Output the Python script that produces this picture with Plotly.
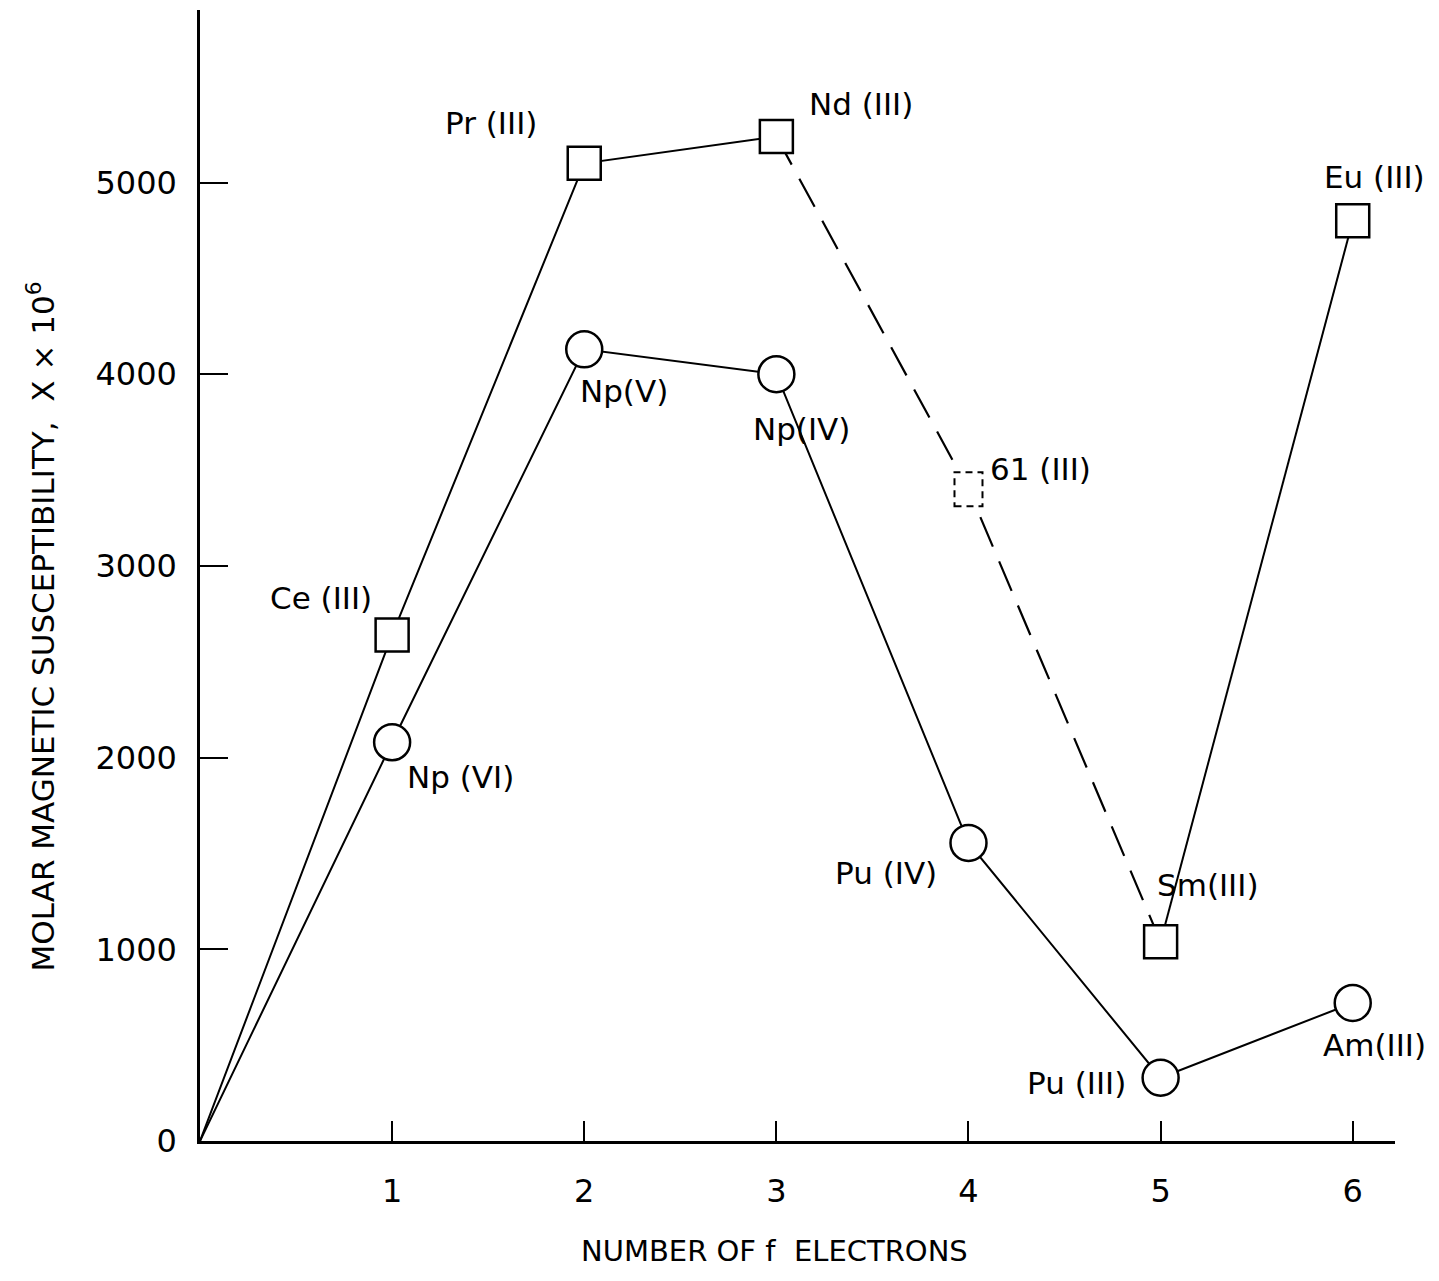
import plotly.graph_objects as go

# ---- data ----
f_electrons = [0, 1, 2, 3, 4, 5, 6]
lanthanide_chi = [0, 2640, 5100, 5240, 3400, 1040, 4800]
lanthanide_labels = ["", "Ce (III)", "Pr (III)", "Nd (III)", "61 (III)", "Sm(III)", "Eu (III)"]
actinide_chi = [0, 2080, 4130, 4000, 1555, 330, 720]
actinide_labels = ["", "Np (VI)", "Np(V)", "Np(IV)", "Pu (IV)", "Pu (III)", "Am(III)"]
x_ticks = [1, 2, 3, 4, 5, 6]
x_tick_text = ["1", "2", "3", "4", "5", "6"]
y_ticks = [0, 1000, 2000, 3000, 4000, 5000]
y_tick_text = ["0", "1000", "2000", "3000", "4000", "5000"]

FONT = "DejaVu Sans"
BLACK = "black"

fig = go.Figure()

# lanthanide lines: solid 0-3, dashed 3-5, solid 5-6
fig.add_trace(go.Scatter(x=f_electrons[0:4], y=lanthanide_chi[0:4], mode="lines",
                         line=dict(color=BLACK, width=2), showlegend=False, hoverinfo="skip"))
fig.add_trace(go.Scatter(x=f_electrons[3:6], y=lanthanide_chi[3:6], mode="lines",
                         line=dict(color=BLACK, width=2.2, dash="32px,16px"), showlegend=False, hoverinfo="skip"))
fig.add_trace(go.Scatter(x=f_electrons[5:7], y=lanthanide_chi[5:7], mode="lines",
                         line=dict(color=BLACK, width=2), showlegend=False, hoverinfo="skip"))
# actinide line
fig.add_trace(go.Scatter(x=f_electrons, y=actinide_chi, mode="lines",
                         line=dict(color=BLACK, width=2), showlegend=False, hoverinfo="skip"))

# markers (squares: all except element 61 which is drawn dashed)
sq_idx = [1, 2, 3, 5, 6]
fig.add_trace(go.Scatter(x=[f_electrons[i] for i in sq_idx], y=[lanthanide_chi[i] for i in sq_idx],
                         mode="markers",
                         marker=dict(symbol="square", size=33, color="white", line=dict(color=BLACK, width=2.5)),
                         showlegend=False))
fig.add_shape(type="rect", xref="x", yref="y", xsizemode="pixel", ysizemode="pixel",
              xanchor=f_electrons[4], yanchor=lanthanide_chi[4],
              x0=-14, x1=14, y0=-17, y1=17,
              line=dict(color=BLACK, width=2, dash="7px,5px"), fillcolor="white", layer="above")
fig.add_trace(go.Scatter(x=f_electrons[1:], y=actinide_chi[1:], mode="markers",
                         marker=dict(symbol="circle", size=36, color="white", line=dict(color=BLACK, width=2.5)),
                         showlegend=False))

# labels (offsets in pixels)
lan_off = {1: (-71, 37), 2: (-93, 40), 3: (85, 33), 4: (72, 20), 5: (47, 57), 6: (22, 44)}
act_off = {1: (68, -35), 2: (40, -42), 3: (25, -55), 4: (-82, -30), 5: (-84, -5), 6: (22, -42)}
for i, (dx, dy) in lan_off.items():
    fig.add_annotation(x=f_electrons[i], y=lanthanide_chi[i], text=lanthanide_labels[i],
                       showarrow=False, xshift=dx, yshift=dy,
                       font=dict(family=FONT, size=31, color=BLACK))
for i, (dx, dy) in act_off.items():
    fig.add_annotation(x=f_electrons[i], y=actinide_chi[i], text=actinide_labels[i],
                       showarrow=False, xshift=dx, yshift=dy,
                       font=dict(family=FONT, size=31, color=BLACK))

# axis titles
fig.add_annotation(xref="paper", yref="paper", x=-0.133, y=0.455,
                   xanchor="center", yanchor="middle",
                   text="MOLAR MAGNETIC SUSCEPTIBILITY,  X × 10<sup>6</sup>", textangle=-90,
                   showarrow=False, font=dict(family=FONT, size=31, color=BLACK))
fig.add_annotation(xref="paper", yref="paper", x=0.481, y=-0.097,
                   xanchor="center", yanchor="middle",
                   text="NUMBER OF f  ELECTRONS", showarrow=False,
                   font=dict(family=FONT, size=29, color=BLACK))

fig.update_xaxes(range=[0, 6.22], tickvals=x_ticks, ticktext=x_tick_text,
                 showline=True, linecolor=BLACK, linewidth=2.5, mirror=False,
                 ticks="inside", ticklen=20, tickwidth=2, tickcolor=BLACK,
                 showgrid=False, zeroline=False, ticklabelstandoff=20, automargin=False,
                 tickfont=dict(family=FONT, size=32, color=BLACK))
fig.update_yaxes(range=[0, 5900], tickvals=y_ticks, ticktext=y_tick_text,
                 showline=True, linecolor=BLACK, linewidth=2.5, mirror=False,
                 ticks="inside", ticklen=28, tickwidth=2, tickcolor=BLACK,
                 showgrid=False, zeroline=False, ticklabelstandoff=14, automargin=False,
                 tickfont=dict(family=FONT, size=32, color=BLACK))

fig.update_layout(width=1423, height=1265, plot_bgcolor="white", paper_bgcolor="white",
                  margin=dict(l=192, r=36, t=2, b=132), showlegend=False)

fig.write_html("out.html")
